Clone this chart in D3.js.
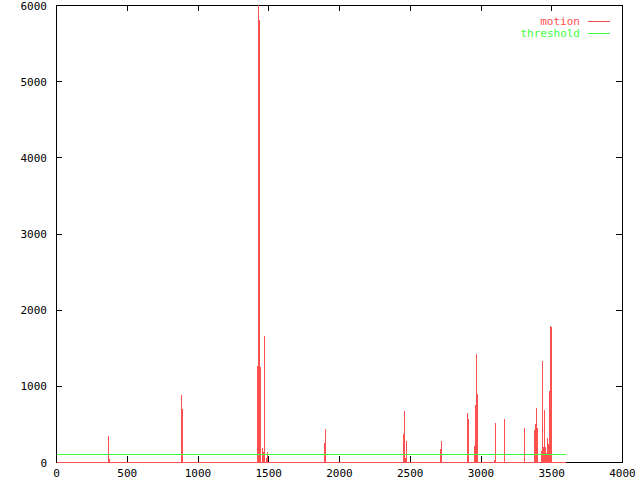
<!DOCTYPE html>
<html>
<head>
<meta charset="utf-8">
<script src="https://cdn.jsdelivr.net/npm/d3@7"></script>
<style>
html,body{margin:0;padding:0;background:#fff;}
svg{display:block;}
text{font-family:"DejaVu Sans Mono",monospace;font-size:11px;}
</style>
</head>
<body>
<svg id="chart" width="640" height="480"></svg>
<script>
// ---- data ----
const seriesNames = ["motion", "threshold"];
const xTicks = [0, 500, 1000, 1500, 2000, 2500, 3000, 3500, 4000];
const yTicks = [0, 1000, 2000, 3000, 4000, 5000, 6000];
const sampleStep = 7;          // seconds per sample
const endTime = 3600;
const thresholdValue = 100;
const spikeTimes = [367, 374, 883, 890, 1421, 1428, 1435, 1442, 1456, 1463, 1470, 1484, 1491,
  1894, 1901, 2452, 2459, 2466, 2473, 2714, 2721, 2905, 2912, 2954, 2961, 2968, 2975,
  3095, 3102, 3166, 3307, 3378, 3385, 3392, 3399, 3428, 3435, 3442, 3449, 3456, 3463,
  3470, 3477, 3484, 3491, 3498];
const spikeValues = [340, 40, 880, 700, 1260, 6100, 5800, 1250, 180, 130, 1650, 50, 130,
  250, 430, 370, 670, 50, 280, 170, 280, 640, 570, 210, 750, 1420, 890,
  30, 510, 570, 450, 420, 500, 710, 450, 140, 1330, 200, 680, 200, 120,
  320, 240, 930, 1790, 1770];
const colors = ["#ff5050", "#40ff40"];

// ---- layout ----
const L = 56, R = 622, T = 5, B = 462;
const svg = d3.select("#chart");
const x = d3.scaleLinear().domain([0, 4000]).range([L + 0.5, R + 0.5]);
const y = d3.scaleLinear().domain([0, 6000]).range([B + 0.5, T + 0.5]);
const px = v => Math.round(x(v) - 0.5) + 0.5;
const py = v => Math.round(y(v) - 0.5) + 0.5;

// border
const g = svg.append("g").attr("shape-rendering", "crispEdges");
g.append("rect").attr("x", L + 0.5).attr("y", T + 0.5).attr("width", R - L).attr("height", B - T)
  .attr("fill", "none").attr("stroke", "#000");

// ticks (inward, mirrored)
const tk = 6;
xTicks.forEach(v => {
  g.append("line").attr("x1", px(v)).attr("x2", px(v)).attr("y1", B).attr("y2", B - tk).attr("stroke", "#000");
  g.append("line").attr("x1", px(v)).attr("x2", px(v)).attr("y1", T).attr("y2", T + tk).attr("stroke", "#000");
  svg.append("text").attr("x", x(v)).attr("y", 477).attr("text-anchor", "middle").text(v);
});
yTicks.forEach(v => {
  const yy = py(v);
  g.append("line").attr("x1", L).attr("x2", L + tk).attr("y1", yy).attr("y2", yy).attr("stroke", "#000");
  g.append("line").attr("x1", R).attr("x2", R - tk).attr("y1", yy).attr("y2", yy).attr("stroke", "#000");
  svg.append("text").attr("x", 47).attr("y", y(v) + 4).attr("text-anchor", "end").text(v);
});

// clip
svg.append("clipPath").attr("id", "clip").append("rect")
  .attr("x", L).attr("y", T).attr("width", R - L + 1).attr("height", B - T + 1);

const samples = spikeTimes.map((t, i) => ({ t: t, v: spikeValues[i] }));

const plot = svg.append("g").attr("clip-path", "url(#clip)").attr("shape-rendering", "crispEdges");
plot.selectAll("rect.s").data(samples).join("rect").attr("class", "s")
  .attr("x", d => Math.floor(x(d.t)))
  .attr("width", d => Math.max(1, Math.floor(x(d.t + sampleStep)) - Math.floor(x(d.t))))
  .attr("y", d => Math.round(y(d.v) - 0.5))
  .attr("height", d => B + 1 - Math.round(y(d.v) - 0.5))
  .attr("fill", colors[0]);
plot.append("path").datum([[0, 0], [endTime, 0]])
  .attr("d", d3.line().x(d => x(d[0])).y(d => py(d[1])))
  .attr("fill", "none").attr("stroke", colors[0]).attr("stroke-width", 1);
plot.append("path").datum([[0, thresholdValue], [endTime, thresholdValue]])
  .attr("d", d3.line().x(d => x(d[0])).y(d => py(d[1])))
  .attr("fill", "none").attr("stroke", colors[1]).attr("stroke-width", 1);

// legend
seriesNames.forEach((name, i) => {
  const ly = 21 + i * 12;
  svg.append("text").attr("x", 580).attr("y", ly + 4).attr("text-anchor", "end")
    .attr("fill", colors[i]).text(name);
  svg.append("line").attr("x1", 588).attr("x2", 610).attr("y1", ly + 0.5).attr("y2", ly + 0.5)
    .attr("stroke", colors[i]).attr("shape-rendering", "crispEdges");
});
</script>
</body>
</html>
